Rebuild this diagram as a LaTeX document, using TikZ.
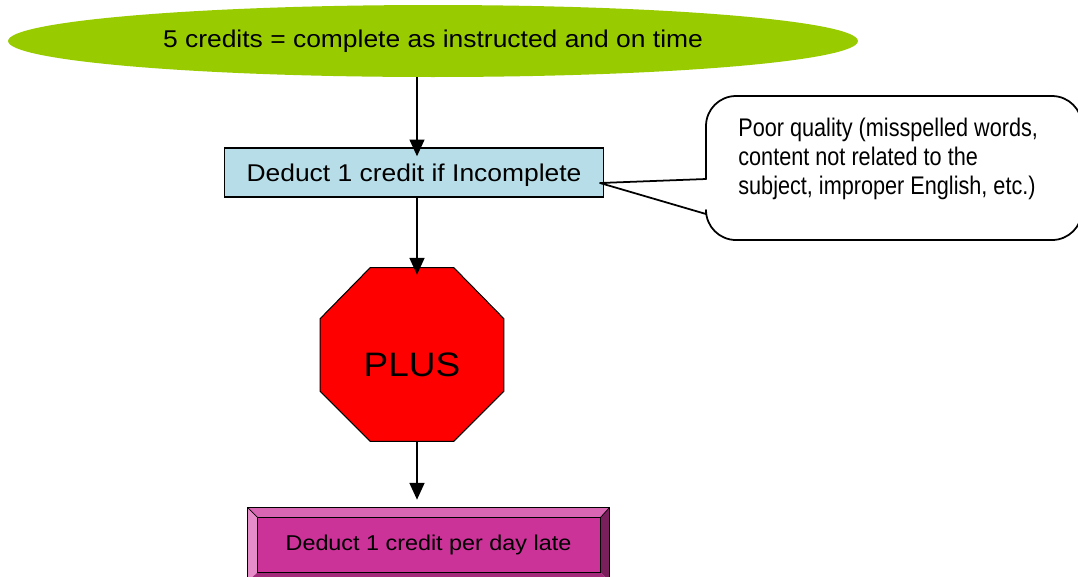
\documentclass[tikz,border=0pt]{standalone}
\usepackage{fontspec}
\setmainfont{Liberation Sans}
\newfontfamily\widefont[FakeStretch=1.09]{Liberation Sans}
\newfontfamily\narrowfont[FakeStretch=0.85]{Liberation Sans}
\usetikzlibrary{positioning,arrows.meta,shapes.geometric}

\definecolor{creditgreen}{RGB}{153,204,0}
\definecolor{deductblue}{RGB}{183,222,232}
\definecolor{stopred}{RGB}{255,0,0}
\definecolor{lateplum}{RGB}{204,51,153}
\definecolor{platetop}{RGB}{217,102,179}
\definecolor{plateleft}{RGB}{230,140,200}
\definecolor{plateright}{RGB}{122,31,92}
\definecolor{platebottom}{RGB}{163,41,122}

\begin{document}
\begin{tikzpicture}[%
        x=0.02cm,
        y=-0.02cm,
        inner sep=0pt,
        flow/.style={%
            line width=0.85pt,
            -{Triangle[width=8.5pt,length=9.5pt]},
        },
        goal/.style={%
            ellipse,
            fill=creditgreen,
            minimum width=17cm,
            minimum height=1.44cm,
            node font=\widefont\fontsize{13.8}{16}\selectfont,
        },
        penalty/.style={%
            rectangle,
            draw,
            line width=0.85pt,
            fill=deductblue,
            minimum width=7.58cm,
            minimum height=0.98cm,
            text depth=0pt,
            node font=\widefont\fontsize{13.8}{16}\selectfont,
        },
        stopsign/.style={%
            draw,
            line width=0.6pt,
            fill=stopred,
        },
        plate/.style={%
            line width=0.85pt,
        },
        callout/.style={%
            line width=1pt,
            line cap=round,
            line join=round,
        },
    ]

    \useasboundingbox (0,0) rectangle (1078,576);
    \fill[white] (0,0) rectangle (1078,576);

    % top goal
    \node (credits) at (433,41) [goal] {5 credits = complete as instructed and on time};

    % first deduction
    \node (incomplete) at (414,172.5) [penalty] {Deduct 1 credit if Incomplete};

    % stop sign
    \node (plus) at (412,354.5) [minimum width=3.66cm, minimum height=3.46cm] {};
    \draw[stopsign] ([xshift=1cm]plus.north west) -- ([xshift=-1cm]plus.north east)
        -- ([yshift=-1.02cm]plus.north east) -- ([yshift=1cm]plus.south east)
        -- ([xshift=-1cm]plus.south east) -- ([xshift=1cm]plus.south west)
        -- ([yshift=1cm]plus.south west) -- ([yshift=-1.02cm]plus.north west) -- cycle;
    \node (plus_label) at ([yshift=-0.21cm]plus.center) [node font=\widefont\fontsize{19.3}{22}\selectfont] {PLUS};

    % late plate
    \node (late) at (428.5,544.5) [minimum width=7.22cm, minimum height=1.46cm] {};
    \coordinate (late_nw) at ([shift={(0.2cm,-0.2cm)}]late.north west);
    \coordinate (late_ne) at ([shift={(-0.18cm,-0.2cm)}]late.north east);
    \coordinate (late_se) at ([shift={(-0.18cm,0.18cm)}]late.south east);
    \coordinate (late_sw) at ([shift={(0.2cm,0.18cm)}]late.south west);
    \fill[platetop] (late.north west) -- (late.north east) -- (late_ne) -- (late_nw) -- cycle;
    \fill[plateleft] (late.north west) -- (late_nw) -- (late_sw) -- (late.south west) -- cycle;
    \fill[plateright] (late.north east) -- (late.south east) -- (late_se) -- (late_ne) -- cycle;
    \fill[platebottom] (late.south west) -- (late_sw) -- (late_se) -- (late.south east) -- cycle;
    \fill[lateplum] (late_nw) rectangle (late_se);
    \draw[plate] (late.north west) rectangle (late.south east);
    \draw[plate] (late_nw) rectangle (late_se);
    \draw[line width=0.4pt] (late.north west) -- (late_nw);
    \draw[line width=0.4pt] (late.north east) -- (late_ne);
    \node (late_label) at (late.center) [node font=\widefont\fontsize{12.2}{14}\selectfont] {Deduct 1 credit per day late};

    % arrows
    \draw[flow, shorten >=-0.18cm] ([xshift=0.06cm]incomplete.north |- credits.south) -- ([xshift=0.06cm]incomplete.north);
    \draw[flow, shorten >=-0.14cm] ([xshift=0.06cm]incomplete.south) -- ([xshift=0.06cm]incomplete.south |- plus.north);
    \draw[flow, shorten >=0.16cm] ([xshift=0.06cm]incomplete.south |- plus.south) -- ([xshift=0.06cm]incomplete.south |- late.north);

    % quality note
    \coordinate (note_tip) at (600,183);
    \draw[callout] (706,179) [rounded corners=0.6cm] -- (706,96) -- (1082,96) -- (1082,240) -- (706,240) -- (706,214);
    \draw[callout] (706,179) -- (note_tip) -- (706,214);
    \node (note) at (738,118) [anchor=north west, align=left, node font=\narrowfont\fontsize{14.5}{16.4}\selectfont] {Poor quality (misspelled words,\\content not related to the\\subject, improper English, etc.)};

\end{tikzpicture}
\end{document}
